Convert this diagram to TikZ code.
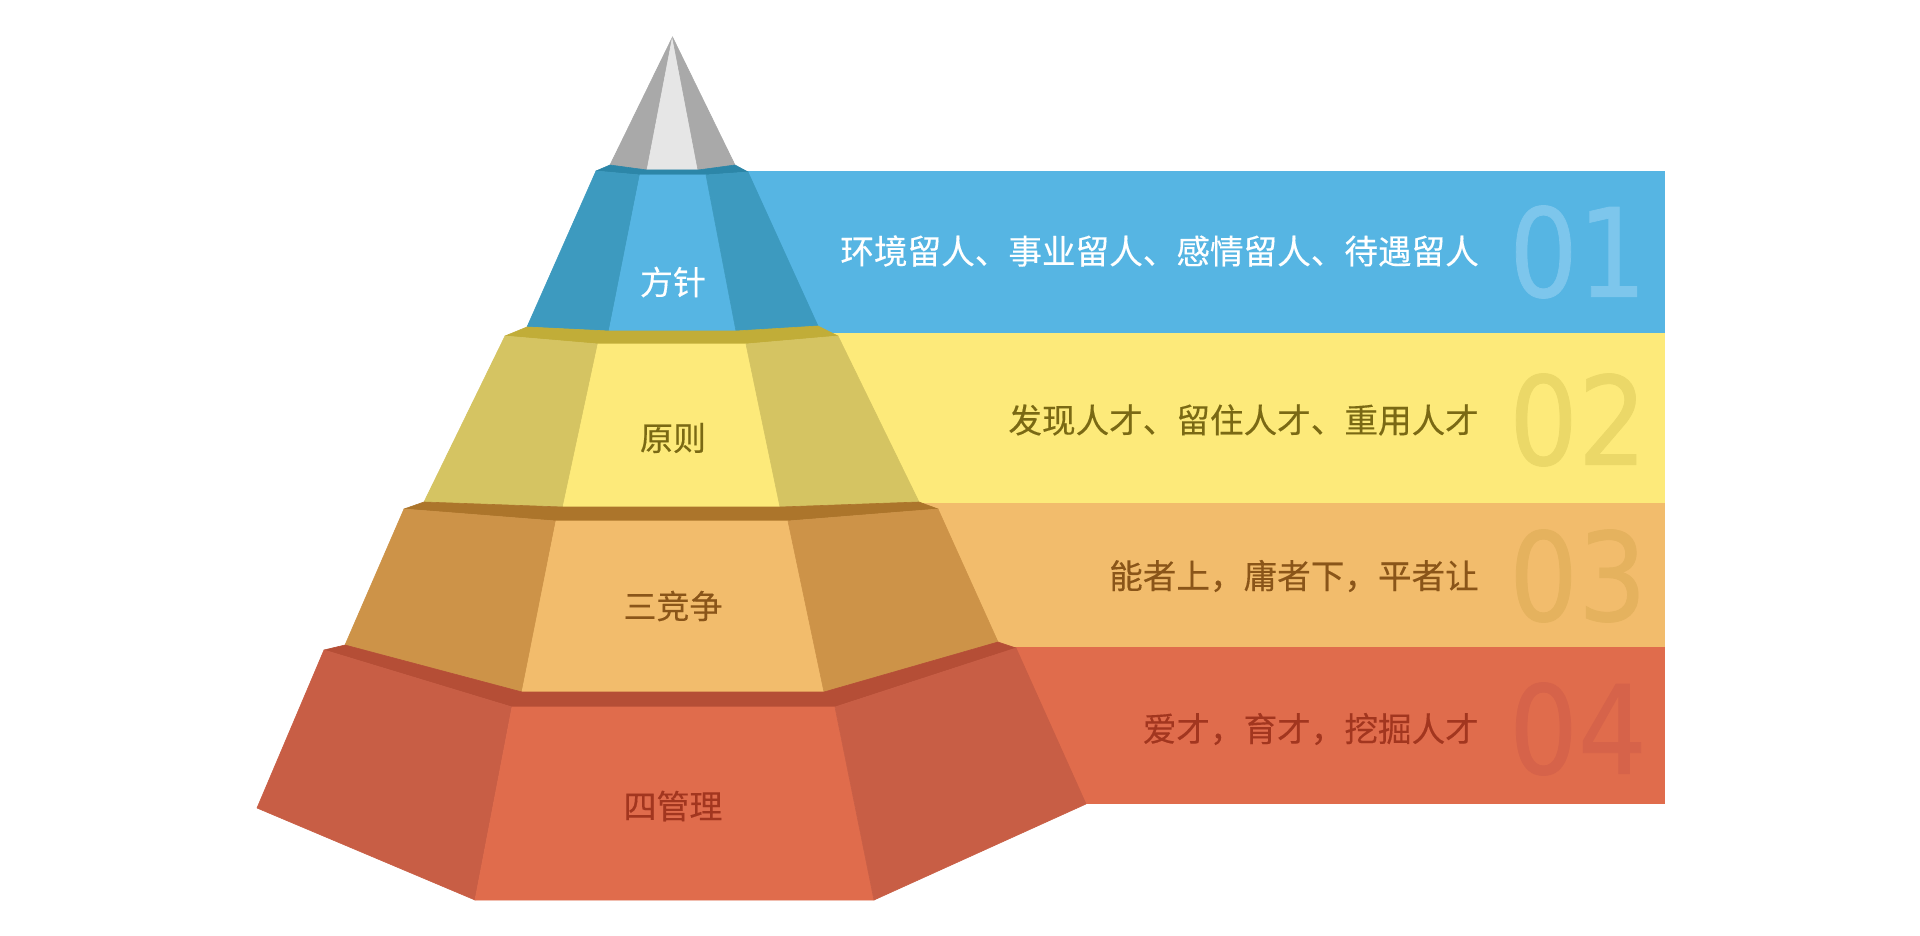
\documentclass[tikz,border=0pt]{standalone}
\usepackage{fontspec}
\newfontfamily\cjk{Noto Sans CJK SC}[FakeBold=0.3]
\newfontfamily\numfont{DejaVu Sans}[FakeStretch=0.88, FakeBold=0.6]
\definecolor{bluefront}{HTML}{56B5E3}
\definecolor{blueside}{HTML}{3D9ABF}
\definecolor{blueband}{HTML}{2C86A8}
\definecolor{coneside}{HTML}{A9A9A9}
\definecolor{conemid}{HTML}{E6E6E6}
\definecolor{yelfront}{HTML}{FDEA7A}
\definecolor{yelside}{HTML}{D5C462}
\definecolor{yelband}{HTML}{C1AD38}
\definecolor{orgfront}{HTML}{F2BC6C}
\definecolor{orgside}{HTML}{CD9348}
\definecolor{orgband}{HTML}{AC752B}
\definecolor{redfront}{HTML}{E06C4C}
\definecolor{redside}{HTML}{C85E45}
\definecolor{redband}{HTML}{B54E36}
\definecolor{yeltext}{HTML}{7A6914}
\definecolor{orgtext}{HTML}{8A5519}
\definecolor{redtext}{HTML}{A2361F}
\definecolor{numblue}{HTML}{7DC6EC}
\definecolor{numyel}{HTML}{EBD868}
\definecolor{numorg}{HTML}{E5B25E}
\definecolor{numred}{HTML}{D6634A}
\tikzset{
  face/.style={fill=#1, draw=#1, line width=0.6pt, line join=round},
  rowtext/.style={font=\cjk\fontsize{33.6}{36}\selectfont, inner sep=0pt, anchor=east},
  tiertext/.style={font=\cjk\fontsize{33}{36}\selectfont, inner sep=0pt},
  bignum/.style={font=\numfont\fontsize{123}{130}\selectfont, inner sep=0pt, anchor=east}
}
\begin{document}
\begin{tikzpicture}[x=1pt,y=-1pt]
\fill[white] (0,0) rectangle (1920,936);
\useasboundingbox (0,0) rectangle (1920,936);
% bars
\fill[bluefront] (744,171) rectangle (1665,333.5);
\fill[yelfront] (820,333) rectangle (1665,503.5);
\fill[orgfront] (915,503) rectangle (1665,647.5);
\fill[redfront] (990,647) rectangle (1665,804);
% big numbers
\node[bignum, text=numblue] (n1) at (1647,252) {01};
\node[bignum, text=numyel] (n2) at (1647,420) {02};
\node[bignum, text=numorg] (n3) at (1647,576) {03};
\node[bignum, text=numred] (n4) at (1647,729) {04};
% row texts
\node[rowtext, text=white] (r1) at (1479,251) {环境留人、事业留人、感情留人、待遇留人};
\node[rowtext, text=yeltext] (r2) at (1479,420) {发现人才、留住人才、重用人才};
\node[rowtext, text=orgtext] (r3) at (1479,576) {能者上，庸者下，平者让};
\node[rowtext, text=redtext] (r4) at (1479,729) {爱才，育才，挖掘人才};
% cone
\path[face=coneside] (672.5,37) -- (610,165) -- (647,170) -- cycle;
\path[face=conemid] (672.5,37) -- (647,170) -- (698,170) -- cycle;
\path[face=coneside] (672.5,37) -- (698,170) -- (735,165) -- cycle;
% blue tier
\path[face=blueband] (596,171) -- (610,165) -- (647,170) -- (698,170) -- (735,165) -- (748,172) -- (706,175) -- (640,175) -- cycle;
\path[face=blueside] (596,171) -- (640,175) -- (609,331) -- (527,327) -- cycle;
\path[face=bluefront] (640,175) -- (706,175) -- (736,331) -- (609,331) -- cycle;
\path[face=blueside] (706,175) -- (748,172) -- (818,326) -- (736,331) -- cycle;
% yellow tier
\path[face=yelband] (505,336) -- (527,327) -- (609,331) -- (736,331) -- (818,326) -- (838,336) -- (746,344) -- (598,344) -- cycle;
\path[face=yelside] (505,336) -- (598,344) -- (563,507) -- (424,502) -- cycle;
\path[face=yelfront] (598,344) -- (746,344) -- (780,507) -- (563,507) -- cycle;
\path[face=yelside] (746,344) -- (838,336) -- (919,502) -- (780,507) -- cycle;
% orange tier
\path[face=orgband] (404,509) -- (424,502) -- (563,507) -- (780,507) -- (919,502) -- (938,509) -- (788,521) -- (556,521) -- cycle;
\path[face=orgside] (404,509) -- (556,521) -- (522,692) -- (345,645) -- cycle;
\path[face=orgfront] (556,521) -- (788,521) -- (824,692) -- (522,692) -- cycle;
\path[face=orgside] (788,521) -- (938,509) -- (998,642) -- (824,692) -- cycle;
% red tier
\path[face=redband] (324,650) -- (345,645) -- (522,692) -- (824,692) -- (998,642) -- (1016,648) -- (835,707) -- (512,707) -- cycle;
\path[face=redside] (324,650) -- (512,707) -- (475,900) -- (257,808) -- cycle;
\path[face=redfront] (512,707) -- (835,707) -- (874,900) -- (475,900) -- cycle;
\path[face=redside] (835,707) -- (1016,648) -- (1086,804) -- (874,900) -- cycle;
% tier labels
\node[tiertext, text=white] (t1) at (673,282) {方针};
\node[tiertext, text=yeltext] (t2) at (673,438) {原则};
\node[tiertext, text=orgtext] (t3) at (673,606) {三竞争};
\node[tiertext, text=redtext] (t4) at (673,806) {四管理};
\end{tikzpicture}
\end{document}
